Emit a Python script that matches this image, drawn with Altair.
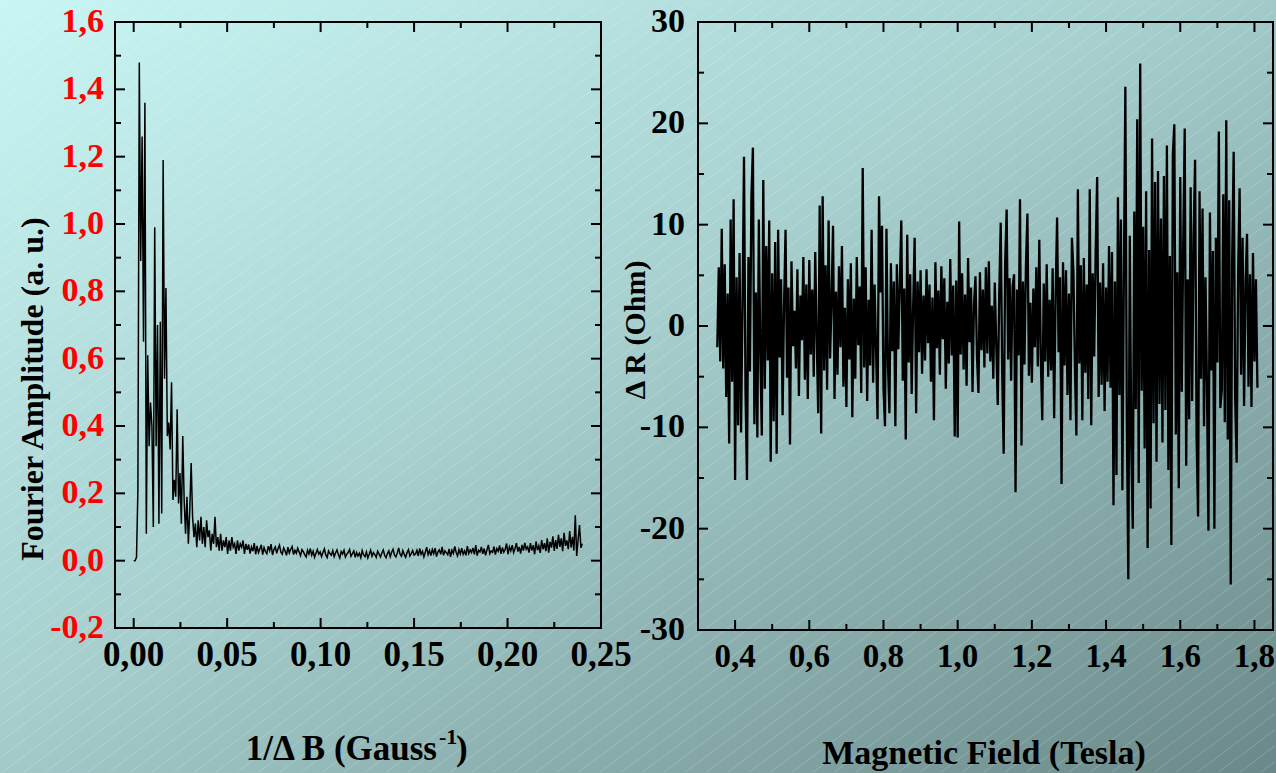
import altair as alt
import numpy as np
import pandas as pd

# ---------------- data ----------------
# Fourier spectrum, sampled every 0.00075 G^-1 starting at 0
inv_b_step = 0.00075
fourier_amp = [
    0.00, 0.00, 0.01, 0.21, 1.48, 0.89, 1.26, 0.65, 1.36, 0.08,
    0.61, 0.34, 0.47, 0.40, 0.10, 0.99, 0.34, 0.70, 0.11, 0.71,
    0.14, 1.19, 0.54, 0.81, 0.37, 0.41, 0.33, 0.53, 0.18, 0.24,
    0.19, 0.45, 0.17, 0.26, 0.11, 0.37, 0.18, 0.08, 0.19, 0.05,
    0.15, 0.29,
    0.13, 0.07, 0.11, 0.04, 0.12, 0.06, 0.13, 0.05, 0.10, 0.04,
    0.12, 0.07, 0.09, 0.03, 0.08, 0.05, 0.13, 0.04, 0.07, 0.03,
    0.08, 0.03, 0.06, 0.04, 0.07, 0.02, 0.06, 0.03, 0.07, 0.04,
    0.05, 0.02, 0.06, 0.03, 0.05, 0.04, 0.06, 0.02, 0.05,
    0.032, 0.048, 0.021, 0.041, 0.028, 0.052, 0.019, 0.044, 0.024, 0.035,
    0.047, 0.018, 0.039, 0.027, 0.021, 0.043, 0.030, 0.049, 0.017, 0.033,
    0.041, 0.022, 0.036, 0.046, 0.025, 0.019, 0.038, 0.029, 0.016, 0.040,
    0.023, 0.034, 0.042, 0.018, 0.031, 0.022, 0.037, 0.026, 0.015, 0.033,
    0.027, 0.018, 0.011, 0.031, 0.020, 0.036, 0.016, 0.028, 0.010, 0.022,
    0.033, 0.019, 0.026, 0.012, 0.024, 0.035, 0.017, 0.009, 0.029, 0.021,
    0.016, 0.030, 0.012, 0.023, 0.032, 0.018, 0.008, 0.027, 0.020, 0.031,
    0.011, 0.019, 0.025, 0.033, 0.013, 0.021, 0.029, 0.010, 0.024, 0.014,
    0.022, 0.009, 0.030, 0.017, 0.012, 0.026, 0.008, 0.019, 0.031, 0.013,
    0.024, 0.018, 0.010, 0.028, 0.020, 0.011, 0.023, 0.032, 0.016, 0.009,
    0.021, 0.029, 0.012, 0.025, 0.034, 0.017, 0.011, 0.022, 0.038, 0.019,
    0.013, 0.030, 0.018, 0.010, 0.024, 0.033, 0.014, 0.021, 0.030, 0.017,
    0.020, 0.031, 0.014, 0.036, 0.019, 0.028, 0.011, 0.025, 0.040, 0.018,
    0.030, 0.015, 0.033, 0.021, 0.037, 0.012, 0.026, 0.032, 0.019, 0.041,
    0.016, 0.029, 0.024, 0.018, 0.035, 0.011, 0.031, 0.022, 0.042, 0.025,
    0.014, 0.033, 0.020, 0.037, 0.019, 0.029, 0.016, 0.043, 0.021, 0.032,
    0.024, 0.038, 0.019, 0.046, 0.015, 0.031, 0.026, 0.041, 0.020, 0.036,
    0.016, 0.032, 0.047, 0.021, 0.029, 0.025, 0.042, 0.018, 0.036, 0.028,
    0.045, 0.020, 0.039, 0.025, 0.034, 0.051, 0.019, 0.041, 0.029, 0.046,
    0.024, 0.036, 0.052, 0.027, 0.041, 0.021, 0.047, 0.030, 0.053, 0.034,
    0.041, 0.024, 0.052, 0.030, 0.046, 0.019, 0.057, 0.031, 0.044, 0.023,
    0.061, 0.034, 0.052, 0.028, 0.066, 0.024, 0.056, 0.039, 0.072, 0.029,
    0.061, 0.035, 0.077, 0.041, 0.066, 0.028, 0.083, 0.044, 0.060, 0.034,
    0.088, 0.039, 0.071, 0.030, 0.135, 0.014, 0.062, 0.106, 0.038, 0.050,
]

# Magnetoresistance oscillations, field sampled every 0.004 T from 0.352 T
field_start = 0.352
field_step = 0.004
delta_r = [
    -2.1, 5.8, -3.5, 9.6, -4.2, 6.1, -7.0, 3.2, -11.6, 10.5, -5.5, 12.5, -15.2, 4.8, -9.8, 7.2, -10.5, 2.1, 16.7, -6.3,
    -15.2, 6.8, -4.5, 12.8, 17.6, -9.7, 3.3, -11.0, 10.5, -2.8, -10.8, 14.4, -6.2, 7.9, -3.4, 10.4, -13.4, 5.2, -9.4, 8.3,
    -12.6, 9.5, -3.1, 4.6, -8.8, 2.2, 9.5, -5.1, 3.8, -11.7, 6.4, -2.0, 1.5, -4.2, 5.6, -6.9, 3.0, -1.4, 6.8, -5.3,
    4.1, -7.2, 6.5, -2.8, 3.6, -5.0, 7.3, -1.2, -8.6, 11.9, -10.6, 12.8, -4.4, 6.0, -6.3, 10.4, -3.2, 2.5, 9.9, -7.2,
    3.4, -4.8, 5.9, -2.1, 7.9, -6.0, 1.8, -8.0, 4.6, -3.3, 6.2, -9.0, 2.7, -5.2, 6.8, -1.9, 3.9, -6.6, 15.6, -4.1,
    5.8, -7.4, 2.6, -3.9, 9.5, -5.6, 4.1, -2.4, -9.2, 12.8, 3.3, 9.9, -6.1, -9.9, 9.6, -3.8, -8.6, 6.2, -2.5, 4.4,
    -9.9, 6.1, -2.3, 4.2, 10.4, -5.4, 3.7, -11.2, 9.0, -3.6, 5.1, -6.7, 2.0, 8.7, -8.6, 4.4, -2.6, 5.5, -4.7, 3.0,
    -3.4, 5.6, -1.7, 4.1, -5.5, 2.8, -9.3, 6.3, -2.2, 3.5, -4.8, 5.9, -1.3, 4.7, -6.2, 2.4, -3.7, 6.6, -2.9, 4.0,
    -10.9, 4.5, -11.0, 10.3, -2.8, 5.2, -4.3, 3.1, -5.9, 6.7, -1.6, 3.8, -6.5, 2.2, 4.9, -3.0, -6.6, 5.3, -2.4, 3.6,
    -4.1, 5.8, -2.7, 6.4, -3.5, 2.0, -5.2, 4.3, -1.8, -7.8, 3.1, 10.2, -4.6, -12.6, 6.2, 11.5, -3.3, 4.7, -5.4, 3.9,
    5.1, -16.4, 3.6, -2.9, 12.5, -11.8, 4.4, -3.8, 6.0, 11.1, -4.9, 2.3, -5.6, 3.7, -2.1, 5.8, -4.0, 8.5, -3.1, -9.3,
    4.2, -3.5, 6.1, -5.0, 2.6, -4.4, 5.7, -9.1, 3.0, 10.7, -2.6, 4.8, -15.6, 6.3, -3.9, 5.5, -6.8, 3.2, -9.3, 8.7,
    5.4, -4.1, -10.8, 13.5, -3.7, 6.0, -9.3, 6.7, -4.6, 4.1, -7.2, 13.5, -9.8, 5.2, -3.0, 7.4, 14.7, -7.0, 4.3, -5.8,
    6.2, -8.4, 3.8, -5.5, 7.9, -6.1, 7.3, -17.7, 4.4, -14.7, 12.7, -6.8, 10.5, -16.2, 5.1, 23.6, -9.5, -25.0, 8.9, -12.0,
    -20.0, 11.3, -8.2, 20.4, -15.5, 25.9, -6.4, 9.8, -12.1, 13.3, -21.9, 7.5, -18.0, 18.5, -9.6, 14.2, -13.4, 15.3, -7.7, 10.6,
    -11.5, 14.8, -8.3, 17.8, -14.2, 6.9, -21.6, 17.0, 19.9, -10.7, 5.3, -16.0, 14.7, -6.5, 8.2, 19.5, -13.8, 4.6, -9.2, 13.7,
    -7.4, 9.1, 16.4, -11.0, -18.8, 13.3, -5.2, 11.6, -9.9, 4.8, -6.1, -20.2, 11.2, -4.4, 7.4, -20.0, 8.7, -3.6, 19.2, -8.1,
    -6.3, 13.0, -9.5, 20.3, -11.2, 12.4, -25.5, 6.8, 17.2, -7.1, -13.5, 5.3, 13.6, -4.8, 8.7, -7.9, 4.2, 9.1, -6.0, 5.1,
    -8.0, 7.2, -3.5, 4.6, -6.1,
]

# tick positions
left_x_major = [0.00, 0.05, 0.10, 0.15, 0.20, 0.25]
left_x_minor = [0.025, 0.075, 0.125, 0.175, 0.225]
left_y_major = [-0.2, 0.0, 0.2, 0.4, 0.6, 0.8, 1.0, 1.2, 1.4, 1.6]
left_y_minor = [-0.1, 0.1, 0.3, 0.5, 0.7, 0.9, 1.1, 1.3, 1.5]
right_x_major = [0.4, 0.6, 0.8, 1.0, 1.2, 1.4, 1.6, 1.8]
right_x_minor = [0.5, 0.7, 0.9, 1.1, 1.3, 1.5, 1.7]
right_y_major = [-30, -20, -10, 0, 10, 20, 30]
right_y_minor = [-25, -15, -5, 5, 15, 25]

spec_df = pd.DataFrame({
    "inv_b": inv_b_step * np.arange(len(fourier_amp)),
    "amp": fourier_amp,
})
mr_df = pd.DataFrame({
    "field": field_start + field_step * np.arange(len(delta_r)),
    "dr": delta_r,
})

# ---------------- layout / style ----------------
CANVAS_W, CANVAS_H = 1276, 773
LX0, LY0 = 115, 22          # left panel origin on the canvas
RX0 = 698                   # right panel left edge on the canvas
WL, HL = 486, 606
WR, HR = 575, 608
GAP = RX0 - LX0 - WL
FONT = "Liberation Serif"
MAJOR, MINOR = 10, 6

xs_l = alt.Scale(domain=[-0.01, 0.25], nice=False, zero=False)
ys_l = alt.Scale(domain=[-0.2, 1.6], nice=False, zero=False)
xs_r = alt.Scale(domain=[0.30, 1.85], nice=False, zero=False)
ys_r = alt.Scale(domain=[-30, 30], nice=False, zero=False)


def one_row():
    return pd.DataFrame({"k": [0]})


def frame(w, h):
    return alt.Chart(one_row()).mark_rect(filled=False, color="black", strokeWidth=2).encode(
        x=alt.value(0), x2=alt.value(w), y=alt.value(0), y2=alt.value(h)
    )


def inner_ticks(values, length, orient, xs, ys, w, h):
    """Ticks pointing into the plot on both opposite sides of the frame."""
    base = alt.Chart(pd.DataFrame({"v": values})).mark_rule(color="black", strokeWidth=2)
    if orient == "x":
        enc = {"x": alt.X("v:Q", scale=xs, axis=None)}
        return [
            base.encode(y=alt.value(h), y2=alt.value(h - length), **enc),
            base.encode(y=alt.value(0), y2=alt.value(length), **enc),
        ]
    enc = {"y": alt.Y("v:Q", scale=ys, axis=None)}
    return [
        base.encode(x=alt.value(0), x2=alt.value(length), **enc),
        base.encode(x=alt.value(w), x2=alt.value(w - length), **enc),
    ]


def tick_labels(values, labels, orient, scale, offset, size, color="black"):
    df = pd.DataFrame({"v": values, "lab": labels})
    if orient == "x":
        return alt.Chart(df).mark_text(
            font=FONT, fontWeight="bold", fontSize=size, color=color, align="center", baseline="middle"
        ).encode(x=alt.X("v:Q", scale=scale, axis=None), y=alt.value(offset), text="lab:N")
    return alt.Chart(df).mark_text(
        font=FONT, fontWeight="bold", fontSize=size, color=color, align="right", baseline="middle"
    ).encode(y=alt.Y("v:Q", scale=scale, axis=None), x=alt.value(offset), text="lab:N")


def label_text(text, x, y, size, angle=0, align="center", baseline="middle"):
    return alt.Chart(one_row()).mark_text(
        text=text, font=FONT, fontWeight="bold", fontSize=size, color="black",
        angle=angle, align=align, baseline=baseline,
    ).encode(x=alt.value(x), y=alt.value(y))


def comma(v, digits):
    return f"{v:.{digits}f}".replace(".", ",")


# page background: diagonal gradient with fine light hatching
background = alt.Chart(one_row()).mark_rect(
    fill=alt.Gradient(
        gradient="linear",
        stops=[
            alt.GradientStop(offset=0, color="#c9f6f4"),
            alt.GradientStop(offset=0.45, color="#a7d0cf"),
            alt.GradientStop(offset=1, color="#6a8888"),
        ],
        x1=0, y1=0, x2=1, y2=1,
    ),
    strokeWidth=0,
).encode(
    x=alt.value(-LX0), x2=alt.value(CANVAS_W - LX0),
    y=alt.value(-LY0), y2=alt.value(CANVAS_H - LY0),
)

slope = 0.75
rows = []
for c in np.arange(6, slope * CANVAS_W + CANVAS_H, 16):
    lo = max(1.0, (c - (CANVAS_H - 1)) / slope)
    hi = min(CANVAS_W - 1.0, (c - 1) / slope)
    if hi - lo < 2:
        continue
    pts = []
    for X in (lo, hi):
        Y = c - slope * X
        px, py = X - LX0, Y - LY0
        pts.append((-0.01 + px / WL * 0.26, 1.6 - py / HL * 1.8))
    rows.append({"hx": pts[0][0], "hy": pts[0][1], "hx2": pts[1][0], "hy2": pts[1][1]})
hatch = alt.Chart(pd.DataFrame(rows)).mark_rule(
    color="white", opacity=0.25, strokeWidth=0.8, clip=False
).encode(
    x=alt.X("hx:Q", scale=xs_l, axis=None), y=alt.Y("hy:Q", scale=ys_l, axis=None),
    x2="hx2:Q", y2="hy2:Q",
)

# ---------------- left panel: Fourier amplitude ----------------
spec_line = alt.Chart(spec_df).mark_line(color="black", strokeWidth=1.5).encode(
    x=alt.X("inv_b:Q", scale=xs_l, axis=None),
    y=alt.Y("amp:Q", scale=ys_l, axis=None),
)

left_layers = [background, hatch, frame(WL, HL)]
left_layers += inner_ticks(left_x_major, MAJOR, "x", xs_l, ys_l, WL, HL)
left_layers += inner_ticks(left_x_minor, MINOR, "x", xs_l, ys_l, WL, HL)
left_layers += inner_ticks(left_y_major, MAJOR, "y", xs_l, ys_l, WL, HL)
left_layers += inner_ticks(left_y_minor, MINOR, "y", xs_l, ys_l, WL, HL)
left_layers += [
    spec_line,
    tick_labels(left_x_major, [comma(v, 2) for v in left_x_major], "x", xs_l, HL + 27, 35),
    tick_labels(left_y_major, [comma(v, 1) for v in left_y_major], "y", ys_l, -11, 34, color="#ff0000"),
    label_text("Fourier Amplitude (a. u.)", 33 - LX0, 389 - LY0, 32, angle=270),
    label_text("1/\u0394 B (Gauss", 437 - LX0, 760 - LY0, 35, align="right", baseline="alphabetic"),
    label_text("-1", 439 - LX0, 744 - LY0, 22, align="left", baseline="alphabetic"),
    label_text(")", 456 - LX0, 760 - LY0, 35, align="left", baseline="alphabetic"),
]
left = alt.layer(*left_layers).properties(width=WL, height=HL)

# ---------------- right panel: magnetoresistance ----------------
mr_line = alt.Chart(mr_df).mark_line(color="black", strokeWidth=2.3).encode(
    x=alt.X("field:Q", scale=xs_r, axis=None),
    y=alt.Y("dr:Q", scale=ys_r, axis=None),
)

right_layers = [frame(WR, HR)]
right_layers += inner_ticks(right_x_major, MAJOR, "x", xs_r, ys_r, WR, HR)
right_layers += inner_ticks(right_x_minor, MINOR, "x", xs_r, ys_r, WR, HR)
right_layers += inner_ticks(right_y_major, MAJOR, "y", xs_r, ys_r, WR, HR)
right_layers += inner_ticks(right_y_minor, MINOR, "y", xs_r, ys_r, WR, HR)
right_layers += [
    mr_line,
    tick_labels(right_x_major, [comma(v, 1) for v in right_x_major], "x", xs_r, HR + 27, 33),
    tick_labels(right_y_major, [str(v) for v in right_y_major], "y", ys_r, -13, 34),
    label_text("\u0394 R (Ohm)", 636 - RX0, 330 - LY0, 30, angle=270),
    label_text("Magnetic Field (Tesla)", 984 - RX0, 754 - LY0, 34),
]
right = alt.layer(*right_layers).properties(width=WR, height=HR)

chart = alt.hconcat(left, right, spacing=GAP, bounds="flush").properties(
    padding=0, background="#a7d0cf"
).configure_view(stroke=None)

chart.save("out.html", embed_options={"renderer": "svg", "actions": False})
